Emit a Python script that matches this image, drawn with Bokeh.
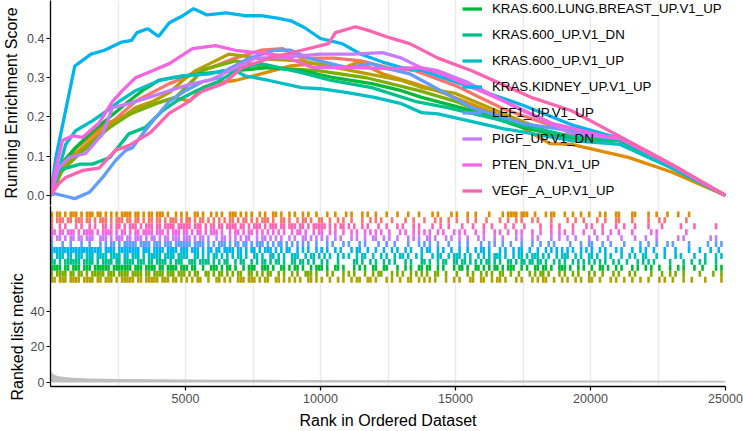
from bokeh.plotting import figure
from bokeh.models import Range1d, FixedTicker, Legend, LegendItem, PrintfTickFormatter, Title
from bokeh.layouts import column
from bokeh.embed import file_html
from bokeh.resources import INLINE

# ---------------- data ----------------
# gene sets in legend (factor) order; first four are off-screen in the reference legend
SET_NAMES = ["", "", "", "",
             "KRAS.600.LUNG.BREAST_UP.V1_UP", "KRAS.600_UP.V1_DN", "KRAS.600_UP.V1_UP",
             "KRAS.KIDNEY_UP.V1_UP", "LEF1_UP.V1_UP", "PIGF_UP.V1_DN", "PTEN_DN.V1_UP",
             "VEGF_A_UP.V1_UP"]
SET_COLORS = ["#F8766D", "#DE8C00", "#B79F00", "#7CAE00", "#00BA38", "#00C08B",
              "#00BFC4", "#00B4F0", "#619CFF", "#C77CFF", "#F564E3", "#FF64B0"]

# running enrichment score curves (rank, ES)
ranks_set1 = [0, 300, 800, 1500, 2500, 3150, 4400, 5630, 6850, 7800, 8600, 9300, 10500, 11500, 12500, 13500, 15000, 16800, 19300, 21100, 23000, 25000]
es_set1 = [0, 0.05, 0.10, 0.14, 0.20, 0.24, 0.285, 0.318, 0.35, 0.37, 0.374, 0.35, 0.35, 0.343, 0.326, 0.318, 0.28, 0.22, 0.16, 0.14, 0.075, 0]

ranks_set2 = [0, 300, 930, 1300, 2060, 2960, 3400, 4150, 4630, 5150, 5630, 6110, 6850, 7800, 8900, 9800, 10900, 11400, 12300, 13500, 14600, 16800, 18500, 19300, 21400, 23000, 25000]
es_set2 = [0, 0.06, 0.12, 0.14, 0.183, 0.208, 0.224, 0.24, 0.25, 0.24, 0.275, 0.287, 0.293, 0.31, 0.33, 0.336, 0.326, 0.34, 0.31, 0.285, 0.26, 0.20, 0.132, 0.13, 0.097, 0.06, 0]

ranks_set3 = [0, 400, 930, 1700, 2500, 3150, 3800, 4400, 4900, 5370, 5900, 6600, 7200, 7800, 9300, 11000, 13000, 13750, 15000, 16800, 18600, 21100, 23000, 25000]
es_set3 = [0, 0.06, 0.107, 0.148, 0.19, 0.224, 0.24, 0.262, 0.293, 0.318, 0.336, 0.36, 0.355, 0.348, 0.343, 0.32, 0.293, 0.275, 0.26, 0.208, 0.158, 0.14, 0.075, 0]

ranks_set4 = [0, 400, 930, 2180, 2960, 3900, 4630, 5370, 5630, 6850, 8100, 9900, 11700, 13650, 15000, 16800, 19300, 21100, 23000, 25000]
es_set4 = [0, 0.06, 0.097, 0.173, 0.208, 0.234, 0.25, 0.30, 0.32, 0.343, 0.326, 0.318, 0.30, 0.267, 0.24, 0.19, 0.14, 0.14, 0.075, 0]

ranks_lung_breast = [0, 400, 900, 1500, 2200, 2900, 3400, 4000, 4500, 5500, 6850, 8100, 9300, 10500, 11900, 13000, 13750, 15600, 17500, 19300, 21100, 23000, 25000]
es_lung_breast = [0, 0.08, 0.12, 0.16, 0.20, 0.24, 0.267, 0.293, 0.30, 0.31, 0.318, 0.326, 0.318, 0.30, 0.285, 0.267, 0.25, 0.216, 0.173, 0.148, 0.14, 0.075, 0]

ranks_kras600_dn = [0, 300, 1100, 1550, 2200, 2900, 3500, 4150, 4650, 5400, 6200, 7000, 7800, 9300, 10400, 11900, 13500, 14700, 16800, 19300, 21100, 23000, 25000]
es_kras600_dn = [0, 0.064, 0.08, 0.08, 0.097, 0.157, 0.173, 0.216, 0.24, 0.267, 0.29, 0.323, 0.336, 0.313, 0.293, 0.275, 0.24, 0.224, 0.19, 0.15, 0.14, 0.075, 0]

ranks_kras600_up = [0, 300, 560, 930, 1550, 2180, 2550, 3150, 4030, 4890, 5890, 6400, 6850, 7200, 8100, 9300, 10000, 11000, 12000, 13000, 13750, 14350, 16800, 19300, 21100, 23000, 25000]
es_kras600_up = [0, 0.064, 0.13, 0.165, 0.19, 0.22, 0.24, 0.267, 0.293, 0.305, 0.31, 0.318, 0.318, 0.305, 0.293, 0.275, 0.272, 0.262, 0.25, 0.234, 0.211, 0.208, 0.17, 0.14, 0.13, 0.07, 0]

ranks_kidney = [0, 200, 570, 900, 1100, 1500, 2000, 2600, 3000, 3200, 3600, 4000, 4400, 4900, 5300, 5800, 6500, 7200, 7800, 8400, 8900, 9400, 10000, 10800, 11500, 12300, 13000, 13800, 15600, 17500, 19300, 21100, 23000, 25000]
es_kidney = [0, 0.097, 0.22, 0.33, 0.34, 0.36, 0.37, 0.39, 0.395, 0.415, 0.425, 0.405, 0.44, 0.458, 0.476, 0.46, 0.465, 0.458, 0.458, 0.452, 0.445, 0.428, 0.40, 0.387, 0.36, 0.34, 0.326, 0.318, 0.275, 0.23, 0.18, 0.145, 0.078, 0]

ranks_lef1 = [0, 150, 450, 900, 1440, 1930, 2410, 2780, 3040, 3410, 3890, 4400, 5000, 5630, 6250, 6480, 7300, 8300, 8900, 9650, 11000, 11850, 12350, 13300, 15600, 17500, 19900, 21100, 23000, 25000]
es_lef1 = [0, 0.005, 0, -0.008, 0.008, 0.046, 0.089, 0.115, 0.122, 0.157, 0.198, 0.24, 0.267, 0.29, 0.30, 0.318, 0.348, 0.37, 0.37, 0.348, 0.326, 0.336, 0.326, 0.31, 0.224, 0.183, 0.158, 0.145, 0.078, 0]

ranks_pigf = [0, 300, 700, 1300, 1930, 2300, 2900, 3650, 4400, 5260, 5890, 6850, 7600, 8500, 10000, 11200, 12300, 13000, 13700, 14350, 15400, 17500, 19300, 21100, 23000, 25000]
es_pigf = [0, 0.07, 0.097, 0.107, 0.157, 0.224, 0.234, 0.25, 0.267, 0.285, 0.293, 0.326, 0.35, 0.352, 0.36, 0.36, 0.364, 0.35, 0.326, 0.318, 0.29, 0.216, 0.158, 0.145, 0.078, 0]

ranks_pten = [0, 200, 440, 820, 1180, 1800, 2300, 2660, 3150, 3780, 4400, 5260, 6110, 6850, 7600, 8600, 9700, 11300, 12550, 13650, 14400, 16800, 18600, 20400, 21100, 23000, 25000]
es_pten = [0, 0.07, 0.14, 0.152, 0.148, 0.185, 0.24, 0.267, 0.30, 0.318, 0.336, 0.374, 0.382, 0.37, 0.364, 0.356, 0.326, 0.326, 0.323, 0.326, 0.313, 0.24, 0.183, 0.153, 0.145, 0.078, 0]

ranks_vegf = [0, 300, 560, 1200, 1800, 2400, 2900, 3700, 4400, 5000, 5600, 6400, 7100, 8100, 9300, 10300, 10550, 11300, 11800, 12550, 13300, 14350, 15600, 17800, 19300, 21100, 23000, 25000]
es_vegf = [0, 0.03, 0.046, 0.064, 0.07, 0.115, 0.127, 0.16, 0.21, 0.234, 0.265, 0.285, 0.326, 0.35, 0.37, 0.387, 0.415, 0.43, 0.42, 0.402, 0.387, 0.35, 0.318, 0.25, 0.216, 0.15, 0.08, 0]

ES_RANKS = [ranks_set1, ranks_set2, ranks_set3, ranks_set4, ranks_lung_breast, ranks_kras600_dn,
            ranks_kras600_up, ranks_kidney, ranks_lef1, ranks_pigf, ranks_pten, ranks_vegf]
ES_VALUES = [es_set1, es_set2, es_set3, es_set4, es_lung_breast, es_kras600_dn,
             es_kras600_up, es_kidney, es_lef1, es_pigf, es_pten, es_vegf]

# hit positions: each string covers 5000 ranks, one character per 100 ranks ('#' = hit)
rug_set1 = ["#.###.##.###.##.#.###.#.###.##.##.#.##.##.#.###.#.##",
            "##.#.##.#.#.#.#.##.#.##.#.#.###.#..##.#..#.##.#..#",
            "#..#..#.#..#...#..#.#.#...#....#..#...#...#.#..#..",
            "#...#..#...#....#..#..#.#...#.#....#.....#..#..#..",
            "..#..#...##....#.....#...#.#.......#..............."]
rug_set2 = ["#.##.#.###.#.###.##.#.#.#.####.##.#.##.###.#..#.#",
            "#..##.#..#.#.#..###.#.#.#..#.#..##.#..#.#..#.#..#.",
            "..#..#...#.#...#.#..#...#...#...#...#....#.#....#.",
            "#...#..#....#....#.####.###..#...#.##...#..#..#..#",
            "...#.#...##....##....#..#...#...#...#.............."]
rug_set3 = ["##.###.####.####.##.###.#.#####.##.#####.###.##.#",
            "#.#.##..#..##.#.#..###.###.#.##..##.#.#.#.#..##.#.",
            "#..#..#.#..#.##..##.#...#.#..#..##..#.#.#.#...#..#",
            ".#...##..##..#.##.#...#.#...#.#.##..#..#.#..#.#..#",
            "#..#...#.#..#..#..#..#...#.#..#...#..#....#.....#."]
rug_set4 = ["#.####.##.##.#.#####.###.####.####.##.####.###.###",
            ".#.##..##.#.##.#.#.##..##.#.#.##..#.#..#.#..###.#.",
            "..#.#...#.#.#...#..#.##...#.#.#..#.#.#.#..##..#...",
            "#...#.#..#.#.#..##..#..#...#.#.##.#...#.#..#.#...#",
            ".#..#...#.#...#.#.....#...#..#.#..#.....#....#..#."]
rug_lung_breast = ["####.##.###.###.######.#######.###.####.##.####.##",
                   "#.##..#..###.#.##.#..#.###..###.#..##.#.##.#..#.##",
                   "#.#..##.#...#.#.#..##..##...#..#.#..##.##..#.#...#",
                   ".##.#..##.#.#.##.#.###..#.#..##.##.#..###.#..#.#.",
                   "#..##.#..#.#...#.#..#.#..#...#..#.#...#..#....#.#."]
rug_kras600_dn = ["##.#.######.####.#.####.##.####.###.##.####.#.###",
                  ".###.####.#.#.##..#.##..#.#.##.#.##.#..##.##.#.#..",
                  "#.#...#.....##.#..#.#..#.#.#...#.#...##.#..#.##..#",
                  "#.##.#.#.#.##.#.#..##.#.##.##.##.#..#.#.#..#.#.#.#",
                  ".#.#.#..#.#..#...#.#.#.#.....#....#..#..#.#...#."]
rug_kras600_up = ["#.###.##.###.###.####.####.##.###.#.#####.####.###.",
                  "#..##.#.#.##.#.#.#.##.#..##.#..##.#.#..###..#.##.#",
                  ".#.#..#.#.#..#.##..#..#.#..#.##.#..#.#...#.##..#.#",
                  "##.#.#..#.#.#.###.#..#.##.#.###.#.#..#.###..#.#..#",
                  "#.#..#.#...#..#.#..##...#..#...#.#....#...#...#.#."]
rug_kidney = ["###################.####.########.###.####.####.##",
              "#.###.#.##.##.####.##.#.##.#.###.#.#.##..#.#.#..#.#",
              "#.#..#.#...#.##..#..#..#..#.#..#.#...#.##..#.#..#.",
              ".#..#..#.##.#...#.#..#.##..#..#..#.#.#.#.#.#..#.#.",
              "#..#.#...#.#...#..#.#..#...#...#....#...#...#..#.."]
rug_lef1 = ["#...#..#...#..#...#.#.##.#.#####.####.###.###.####",
            "##.####.#.#.###.#.##.##.#.###.#.#.##.#.#.#.#.#..#.",
            "..#.#...#.#...#.#....#..#..#....#...#.#.#..#...#..",
            ".#..#....#..#.#..#..#...#...#..#..#.#.....#...#..#",
            "#...#..#....#.....#..#..#...#.#.....#......#..#.#."]
rug_pigf = ["#.##.#.##.##.###..###.#.###.##.###.#.##.#.##.###.#",
            "##.#.##.#..#.##.#.#.#.##..#.##.#.#.#..#.#..##.#.#.",
            "#.#..#.#...#.#..#..##..#.#..#...#.#.#..##.#...#.#.",
            ".#..#...#.#...#..#....#.#...#.#....#..#..#..#....#",
            "..#...#....#....#...#...#.......#.#.........#.#..."]
rug_pten = ["##.##.###.#.####.#.####.#.##.#.##.####.###.#.###.#",
            "#.#.##.#.###.#..#.##.#.##.#.#.#.#.#.#..#.##.#..#.#",
            "#..#.#..#..#.#..#.#.#.#..#...#.#..#.#.#.#..#.#...#",
            ".#.#...#..#...#.#..#..#.#...#..#...#..#.#..#...#..",
            ".#..#..#..#....#......#.#..........#..............."]
rug_vegf = ["#..#.#...#.#..#.#..##.#.##.#.###.#.###.##.####.###",
            "##.###.#.##.##.####.##.#.###.#.###.##.###.##.#.###",
            "##.#.#.##.#.#..#.#...#..#...#.#...#.#....#..#..#..",
            "..#...#...#..#....#..#...#.....#...#..#....#....#..",
            "#...#....#..#...#....#....#......#....#.......#..."]

RUG_BY_SET = [rug_set1, rug_set2, rug_set3, rug_set4, rug_lung_breast, rug_kras600_dn,
              rug_kras600_up, rug_kidney, rug_lef1, rug_pigf, rug_pten, rug_vegf]
# stacking order of the hit rows, bottom row first (indices into SET_NAMES)
RUG_ROW_ORDER = [2, 3, 4, 5, 6, 7, 8, 9, 10, 11, 0, 1]

# ranked list metric
metric_ranks = [1, 50, 150, 300, 600, 1000, 1500, 2500, 4000, 6000, 9000, 13000, 17000, 21000, 25000]
metric_values = [8.0, 5.5, 4.2, 3.5, 3.0, 2.6, 2.3, 2.0, 1.8, 1.6, 1.45, 1.3, 1.2, 1.1, 1.0]

ES_TICKS = [0, 0.1, 0.2, 0.3, 0.4]
METRIC_TICKS = [0, 20, 40]
X_TICKS = [5000, 10000, 15000, 20000, 25000]
GRID_TICKS = [2500, 5000, 7500, 10000, 12500, 15000, 17500, 20000, 22500]

# ---------------- styling ----------------
FONT = "Liberation Sans"
W = 743
BL, BR = 48, 18
GRID_COLOR = "#EBEBEB"

xr = Range1d(0, 25000)


def base_fig(height, y_range, bottom=0):
    p = figure(width=W, height=height, x_range=xr, y_range=y_range,
               output_backend="svg", toolbar_location=None,
               min_border_left=BL, min_border_right=BR,
               min_border_top=0, min_border_bottom=bottom)
    p.outline_line_color = None
    p.background_fill_color = "white"
    p.ygrid.visible = False
    p.xgrid.ticker = FixedTicker(ticks=GRID_TICKS)
    p.xgrid.grid_line_color = GRID_COLOR
    p.xgrid.grid_line_width = 1.5
    for ax in p.axis:
        ax.axis_line_color = "black"
        ax.axis_line_width = 1.3
        ax.major_tick_line_color = "black"
        ax.major_tick_line_width = 1.2
        ax.major_tick_out = 4
        ax.major_tick_in = 0
        ax.minor_tick_line_color = None
        ax.major_label_text_font = FONT
        ax.major_label_text_font_size = "12.5px"
        ax.major_label_text_color = "#4D4D4D"
        ax.major_label_standoff = 2
        ax.axis_label_text_font = FONT
        ax.axis_label_text_font_size = "16px"
        ax.axis_label_text_font_style = "normal"
        ax.axis_label_text_color = "black"
        ax.axis_label_standoff = 2
    return p


# top: running enrichment score
p1 = base_fig(205, Range1d(-0.0255, 0.4968))
p1.xaxis.visible = False
p1.yaxis.ticker = FixedTicker(ticks=ES_TICKS)
p1.yaxis.formatter = PrintfTickFormatter(format="%.1f")
p1.yaxis.axis_label = "Running Enrichment Score"
p1.yaxis.axis_label_standoff = 4

items = []
for name, color, rk, es in zip(SET_NAMES, SET_COLORS, ES_RANKS, ES_VALUES):
    r = p1.line(rk, es, line_color=color, line_width=3.3)
    if name:
        items.append(LegendItem(label=name, renderers=[r]))

legend = Legend(items=items, location=(412, 4), orientation="vertical",
                background_fill_alpha=0, border_line_color=None, padding=0, margin=0,
                spacing=5, label_height=21, glyph_height=21, glyph_width=20,
                label_standoff=10, label_text_font=FONT, label_text_font_size="13.3px",
                label_text_color="black")
p1.add_layout(legend)

# bottom: hit rug (own y range) above the ranked list metric
p2 = base_fig(226, Range1d(-2.22, 99.44), bottom=43)
p2.extra_y_ranges = {"rug": Range1d(-17.5, 13.0)}
p2.yaxis.ticker = FixedTicker(ticks=METRIC_TICKS)
p2.xaxis.ticker = FixedTicker(ticks=X_TICKS)
p2.xaxis.axis_label = "Rank in Ordered Dataset"
p2.xaxis.major_label_standoff = 3
p2.xaxis.axis_label_standoff = 6

for row, idx in enumerate(RUG_ROW_ORDER):
    xs = []
    for c, chunk in enumerate(RUG_BY_SET[idx]):
        for j, ch in enumerate(chunk):
            if ch == "#":
                xs.append(c * 5000 + j * 100 + 50)
    p2.segment(x0=xs, y0=[row] * len(xs), x1=xs, y1=[row + 1] * len(xs),
               line_color=SET_COLORS[idx], line_width=2.6, y_range_name="rug")

p2.varea(x=metric_ranks, y1=[0] * len(metric_ranks), y2=metric_values,
         fill_color="#BEBEBE")

p2.add_layout(Title(text="Ranked list metric", align="left", offset=-14, standoff=4,
                    text_font=FONT, text_font_size="16px", text_font_style="normal",
                    text_color="black"), "left")

layout = column(p1, p2, spacing=0)
open("out.html", "w").write(file_html(layout, INLINE))
